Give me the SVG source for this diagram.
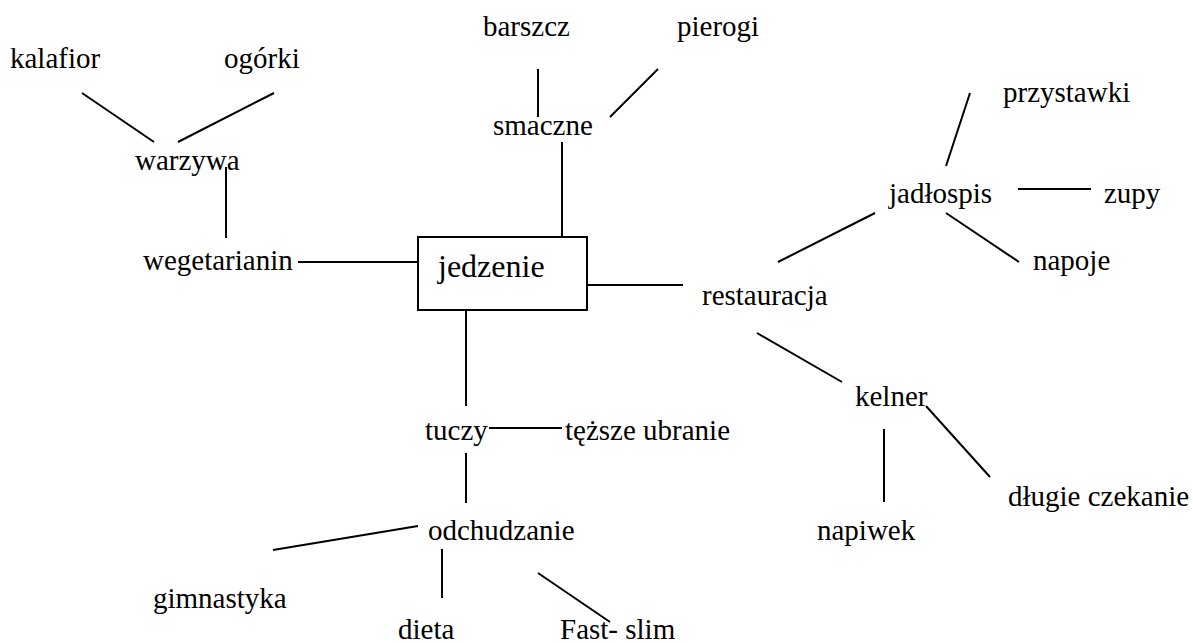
<svg xmlns="http://www.w3.org/2000/svg" width="1193" height="643" viewBox="0 0 1193 643">
<style>
  text { font-family: 'Liberation Serif', 'Tinos', 'Times New Roman', Times, 'DejaVu Serif', serif; font-size: 29px; fill: #000; }
  .main { font-size: 32px; }
  .c line { stroke: #000; stroke-width: 2; }
  .box { fill: #fff; stroke: #000; stroke-width: 2; }
</style>
<rect width="1193" height="643" fill="#fff"/>
<g id="connectors" class="c">
  <line x1="82" y1="93" x2="154" y2="142"/>
  <line x1="274" y1="93" x2="178" y2="142"/>
  <line x1="226" y1="167" x2="226" y2="238"/>
  <line x1="298" y1="262" x2="418" y2="262"/>
  <line x1="538" y1="69" x2="538" y2="117"/>
  <line x1="658" y1="69" x2="610" y2="117"/>
  <line x1="562" y1="142" x2="562" y2="237"/>
  <line x1="587" y1="285" x2="683" y2="285"/>
  <line x1="778" y1="262" x2="875" y2="213"/>
  <line x1="970" y1="93" x2="946" y2="166"/>
  <line x1="1018" y1="189" x2="1091" y2="189"/>
  <line x1="946" y1="213" x2="1019" y2="262"/>
  <line x1="757" y1="333" x2="842" y2="382"/>
  <line x1="926" y1="406" x2="990" y2="477"/>
  <line x1="884" y1="429" x2="884" y2="502"/>
  <line x1="466" y1="310" x2="466" y2="406"/>
  <line x1="489" y1="428" x2="562" y2="428"/>
  <line x1="466" y1="453" x2="466" y2="503"/>
  <line x1="418" y1="526" x2="273" y2="550"/>
  <line x1="442" y1="549" x2="442" y2="598"/>
  <line x1="538" y1="573" x2="610" y2="622"/>
</g>
<g id="n-jedzenie"><rect class="box" x="418" y="237" width="169" height="73"/><text class="main" x="438" y="277">jedzenie</text></g>
<g id="n-kalafior"><text x="10" y="68">kalafior</text></g>
<g id="n-ogorki"><text x="224" y="68">ogórki</text></g>
<g id="n-barszcz"><text x="483" y="36">barszcz</text></g>
<g id="n-pierogi"><text x="677" y="36">pierogi</text></g>
<g id="n-warzywa"><text x="135" y="170">warzywa</text></g>
<g id="n-smaczne"><text x="493" y="135">smaczne</text></g>
<g id="n-przystawki"><text x="1003" y="102">przystawki</text></g>
<g id="n-jadlospis"><text x="889" y="203">jadłospis</text></g>
<g id="n-zupy"><text x="1104" y="203">zupy</text></g>
<g id="n-wegetarianin"><text x="143" y="270">wegetarianin</text></g>
<g id="n-napoje"><text x="1033" y="270">napoje</text></g>
<g id="n-restauracja"><text x="702" y="305">restauracja</text></g>
<g id="n-kelner"><text x="855" y="406">kelner</text></g>
<g id="n-tuczy"><text x="425" y="440">tuczy</text></g>
<g id="n-tezsze"><text x="565" y="440">tęższe ubranie</text></g>
<g id="n-dlugie"><text x="1008" y="506">długie czekanie</text></g>
<g id="n-napiwek"><text x="817" y="540">napiwek</text></g>
<g id="n-odchudzanie"><text x="428" y="540">odchudzanie</text></g>
<g id="n-gimnastyka"><text x="153" y="608">gimnastyka</text></g>
<g id="n-dieta"><text x="398" y="639">dieta</text></g>
<g id="n-fastslim"><text x="560" y="639">Fast- slim</text></g>
</svg>
